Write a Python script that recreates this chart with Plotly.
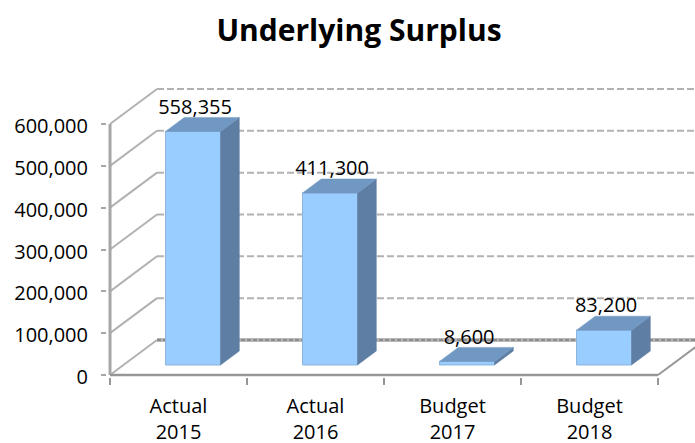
import plotly.graph_objects as go

title = "Underlying Surplus"
categories = ["Actual<br>2015", "Actual<br>2016", "Budget<br>2017", "Budget<br>2018"]
values = [558355, 411300, 8600, 83200]
y_ticks = [0, 100000, 200000, 300000, 400000, 500000, 600000]
x_edges = [0, 1, 2, 3, 4]

FONT = "Open Sans, Noto Sans, sans-serif"
WALL_DX, WALL_DY = 0.343, 83700     # wall depth in axis units
BAR_X = [0.405, 1.405, 2.405, 3.405]
BAR_W = 0.402
BASE = 23900
BAR_DX, BAR_DY = 0.137, 33500
LABEL_GAP = 21000
GRID = "#B2B2B2"
AXIS = "#A6A6A6"
FRONT, SIDE, TOP = "#99CCFF", "#5F7EA3", "#7098C2"

fig = go.Figure()

# front faces
fig.add_trace(go.Bar(
    x=[b + BAR_W / 2 for b in BAR_X], y=values, base=BASE, width=BAR_W,
    marker=dict(color=FRONT, line=dict(color="#8FB4DC", width=1)),
    hoverinfo="skip", showlegend=False))

# side and top faces
for b, v in zip(BAR_X, values):
    r = b + BAR_W
    t = BASE + v
    fig.add_trace(go.Scatter(
        x=[r, r + BAR_DX, r + BAR_DX, r, r], y=[BASE, BASE + BAR_DY, t + BAR_DY, t, BASE],
        fill="toself", fillcolor=SIDE, mode="lines", line=dict(color=SIDE, width=0.5),
        hoverinfo="skip", showlegend=False))
    fig.add_trace(go.Scatter(
        x=[b, b + BAR_DX, r + BAR_DX, r, b], y=[t, t + BAR_DY, t + BAR_DY, t, t],
        fill="toself", fillcolor=TOP, mode="lines", line=dict(color=TOP, width=0.5),
        hoverinfo="skip", showlegend=False))

# data labels
fig.add_trace(go.Scatter(
    x=[b + BAR_W / 2 + 0.015 for b in BAR_X],
    y=[BASE + v + BAR_DY + LABEL_GAP for v in values],
    text=[f"{v:,}" for v in values], mode="text", textposition="middle center",
    textfont=dict(family=FONT, size=20, color="#000000"),
    hoverinfo="skip", showlegend=False, cliponaxis=False))

# walls and gridlines, behind the bars
shapes = []
for t in y_ticks:
    shapes.append(dict(type="line", xref="x", yref="y", layer="below",
                       x0=0, y0=t, x1=WALL_DX, y1=t + WALL_DY,
                       line=dict(color=GRID, width=2)))
    if t == 0:
        shapes.append(dict(type="line", xref="x", yref="y", layer="below",
                           x0=WALL_DX, y0=t + WALL_DY, x1=4 + WALL_DX, y1=t + WALL_DY,
                           line=dict(color="#B8B8B8", width=4)))
    shapes.append(dict(type="line", xref="x", yref="y", layer="below",
                       x0=WALL_DX, y0=t + WALL_DY, x1=4 + WALL_DX, y1=t + WALL_DY,
                       line=dict(color=GRID if t else "#8C8C8C", width=2,
                                 dash="7px,3px" if t else "4px,2px")))

# axis lines
shapes.append(dict(type="line", xref="x", yref="y", layer="below",
                   x0=4, y0=0, x1=4 + WALL_DX, y1=WALL_DY, line=dict(color="#969696", width=2)))
shapes.append(dict(type="line", xref="x", yref="y", layer="above",
                   x0=0, y0=0, x1=0, y1=max(y_ticks), line=dict(color=AXIS, width=3)))
shapes.append(dict(type="line", xref="x", yref="y", layer="above",
                   x0=0, y0=0, x1=4, y1=0, line=dict(color="#969696", width=2.5)))

fig.update_layout(
    width=695, height=443,
    margin=dict(l=107, r=0, t=60, b=66, autoexpand=False),
    paper_bgcolor="white", plot_bgcolor="white",
    showlegend=False, barmode="overlay", shapes=shapes,
    title=dict(text=f"<b>{title}</b>", x=359 / 695, xanchor="center", xref="container",
               y=0.932, yanchor="middle",
               font=dict(family=FONT, size=30, color="black")),
    xaxis=dict(range=[-0.022, 4.27], showgrid=False, zeroline=False, showline=False,
               tickmode="array", tickvals=[i + 0.5 for i in range(len(categories))],
               ticktext=categories, ticks="", ticklabelstandoff=15,
               tickfont=dict(family=FONT, size=20, color="#000000"),
               minor=dict(tickmode="array", tickvals=x_edges, ticks="outside", ticklen=7,
                          tickcolor="#969696", tickwidth=1.5, showgrid=False)),
    yaxis=dict(range=[-4800, 753000], showgrid=False, zeroline=False, showline=False,
               tickmode="array", tickvals=y_ticks, ticktext=[f"{t:,}" for t in y_ticks],
               ticks="outside", ticklen=5, tickcolor=AXIS, tickwidth=1.5, ticklabelstandoff=9,
               ticklabelshift=2,
               tickfont=dict(family=FONT, size=20, color="#000000")),
)

fig.write_html("out.html", config={"displayModeBar": False},
               post_script="document.body.style.margin='0';")
